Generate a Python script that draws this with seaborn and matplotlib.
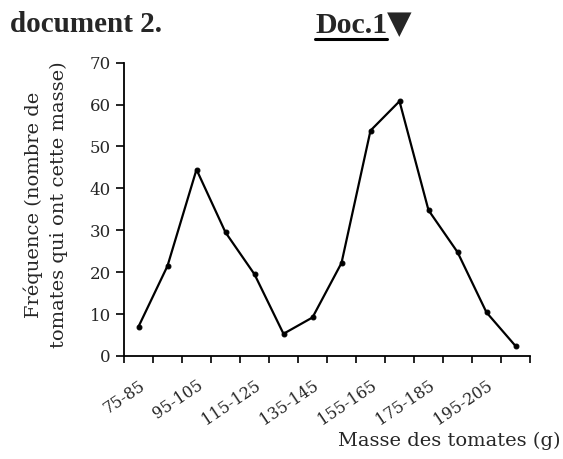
import numpy as np
import seaborn as sns
import matplotlib.pyplot as plt
from matplotlib.lines import Line2D

# classes de masse (g) et effectifs
classes = ["75-85", "85-95", "95-105", "105-115", "115-125", "125-135", "135-145",
           "145-155", "155-165", "165-175", "175-185", "185-195", "195-205", "205-215"]
frequences = [7, 21.5, 44.5, 29.5, 19.5, 5.3, 9.2, 22.2, 53.8, 60.8, 34.8, 24.8, 10.4, 2.4]
yticks = [0, 10, 20, 30, 40, 50, 60, 70]

sns.set_style("ticks")
plt.rcParams['font.family'] = ['DejaVu Serif']

fig = plt.figure(figsize=(5.63, 4.59), dpi=100)
ax = fig.add_axes([124 / 563, 1 - 356 / 459, 406 / 563, (356 - 62.7) / 459])

sns.lineplot(x=classes, y=frequences, sort=False, ax=ax, color="black",
             linewidth=1.6, marker="o", markersize=3.5, markeredgecolor="black")

ax.set_xlim(-0.5, 13.5)
ax.set_ylim(0, 70)
ax.set_yticks(yticks)
ax.set_yticklabels([str(v) for v in yticks], fontsize=12)

# étiquettes une classe sur deux, graduations aux limites des classes
pos = np.arange(len(classes))
ax.set_xticks(pos[::2])
ax.set_xticklabels(classes[::2], rotation=34, ha="right", rotation_mode="anchor", fontsize=11.5)
ax.set_xticks(np.arange(-0.5, 13.6, 1), minor=True)
ax.tick_params(axis="x", which="major", length=0, pad=15)
ax.tick_params(axis="x", which="minor", length=5, width=1.2, color="black")
ax.tick_params(axis="y", length=6, width=1.2, color="black")
for s in ["top", "right"]:
    ax.spines[s].set_visible(False)
for s in ["left", "bottom"]:
    ax.spines[s].set_color("black")
    ax.spines[s].set_linewidth(1.3)
ax.set_xlabel("")
ax.set_ylabel("")

fig.text(46 / 563, 1 - 205 / 459, "Fréquence (nombre de\ntomates qui ont cette masse)",
         rotation=90, ha="center", va="center", multialignment="center",
         fontsize=14, linespacing=1.5)
fig.text(560 / 563, 1 - 441 / 459, "Masse des tomates (g)", ha="right", va="center", fontsize=14)

# en-tête
fig.text(10 / 563, 1 - 32 / 459, "document 2.", fontsize=21, fontweight="bold",
         family=["Liberation Serif"], va="baseline")
doc = fig.text(315 / 563, 1 - 33 / 459, "Doc.1", fontsize=21.5, fontweight="bold",
               family=["Liberation Serif"], va="baseline")
fig.canvas.draw()
bb = doc.get_window_extent()
fig.text(bb.x1 / fig.bbox.width, 1 - 33 / 459, "\u25bc", fontsize=23,
         family=["DejaVu Sans"], va="baseline")
y_ul = (bb.y0 + 0.5) / fig.bbox.height
fig.add_artist(Line2D([bb.x0 / fig.bbox.width, bb.x1 / fig.bbox.width], [y_ul, y_ul],
                      transform=fig.transFigure, color="black", linewidth=2.2))

fig.savefig("out.png", dpi=100)
